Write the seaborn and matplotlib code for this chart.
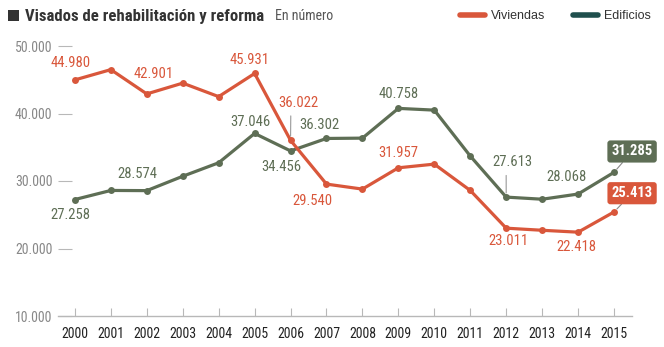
import matplotlib
matplotlib.use("Agg")
import matplotlib.pyplot as plt
from matplotlib.lines import Line2D
from matplotlib.patches import Rectangle
import pandas as pd
import seaborn as sns

# Series: rehabilitation & renovation permits (visados), units per year
years = list(range(2000, 2016))
viviendas = [44980, 46500, 42901, 44500, 42500, 45931, 36022, 29540,
             28800, 31957, 32500, 28600, 23011, 22700, 22418, 25413]
edificios = [27258, 28600, 28574, 30700, 32700, 37046, 34456, 36302,
             36350, 40758, 40500, 33700, 27613, 27300, 28068, 31285]
series_names = ["Viviendas", "Edificios"]
yticks = [10000, 20000, 30000, 40000, 50000]

RED = "#d9573b"
GREEN = "#5e6e55"
TEAL = "#1f4f4d"
GRID = "#b8b8b8"

def fmt(v):
    return f"{v:,}".replace(",", ".")

df = pd.DataFrame({
    "year": years * 2,
    "value": viviendas + edificios,
    "serie": [series_names[0]] * len(years) + [series_names[1]] * len(years),
})

sns.set_theme(style="white")
plt.rcParams["font.family"] = ["Roboto Condensed", "DejaVu Sans"]

fig = plt.figure(figsize=(6.64, 3.47), dpi=100)
ax = fig.add_axes([58 / 664, 31 / 347, (632 - 58) / 664, (316 - 46) / 347])

sns.lineplot(data=df, x="year", y="value", hue="serie",
             palette={"Viviendas": RED, "Edificios": GREEN},
             hue_order=["Edificios", "Viviendas"],
             marker="o", markersize=5, markeredgewidth=0,
             linewidth=2.3, legend=False, ax=ax)

ax.set_xlim(1999.53, 2015.5)
ax.set_ylim(10000, 50000)
ax.set_xticks(years)
ax.set_xticklabels([str(y) for y in years])
ax.set_yticks(yticks)
ax.set_yticklabels([fmt(v) for v in yticks])
ax.set_xlabel("")
ax.set_ylabel("")

for side in ("top", "right", "left"):
    ax.spines[side].set_visible(False)
ax.spines["bottom"].set_color(GRID)
ax.spines["bottom"].set_linewidth(1.0)

ax.tick_params(axis="x", direction="in", length=6, width=0.8, color=GRID,
               labelsize=10, labelcolor="#222222", pad=8, bottom=True)
ax.tick_params(axis="y", direction="in", length=10, width=0.8, color=GRID,
               labelsize=10, labelcolor="#888888", pad=4, left=True)
ax.grid(False)

# value labels: (series, index, offset in points)
def label(vals, i, dx, dy, color, leader=None):
    kw = {}
    if leader is not None:
        kw["arrowprops"] = dict(arrowstyle="-", color="#999999", lw=0.8,
                                shrinkA=2, shrinkB=3, relpos=(leader, 0.0))
    ax.annotate(fmt(vals[i]), (years[i], vals[i]), xytext=(dx, dy),
                textcoords="offset points", ha="center", va="center",
                fontsize=10.5, color=color, **kw)

label(viviendas, 0, -3, 12, RED)
label(viviendas, 2, 5, 14.5, RED)
label(viviendas, 5, -3.6, 9.4, RED)
label(viviendas, 6, 6, 27, RED, leader=0.3)
label(viviendas, 7, -10, -12, RED)
label(viviendas, 9, 0, 11, RED)
label(viviendas, 12, 1.4, -9.4, RED)
label(viviendas, 14, -1.4, -11, RED)

label(edificios, 0, -3, -11, GREEN)
label(edificios, 2, -6.5, 12, GREEN)
label(edificios, 5, -3, 8, GREEN)
label(edificios, 6, -6.5, -11.5, GREEN)
label(edificios, 7, -5, 9.4, GREEN)
label(edificios, 9, 0, 10, GREEN)
label(edificios, 12, 4.3, 25, GREEN, leader=0.35)
label(edificios, 14, -8, 12, GREEN)

# highlighted last values in boxes
for vals, color, dy in ((edificios, GREEN, 15), (viviendas, RED, 13.5)):
    ax.annotate(fmt(vals[-1]), (years[-1], vals[-1]), xytext=(13, dy),
                textcoords="offset points", ha="center", va="center",
                fontsize=10.5, color="white", fontweight="bold",
                bbox=dict(boxstyle="round,pad=0.28,rounding_size=0.2",
                          fc=color, ec="none"),
                arrowprops=dict(arrowstyle="-", color="#888888", lw=0.8,
                                shrinkA=0, shrinkB=3))

# header
fig.patches.append(Rectangle((8 / 664, 1 - 21 / 347), 11 / 664, 11 / 347,
                             transform=fig.transFigure, fc="#333333", ec="none"))
fig.text(25 / 664, 1 - 16 / 347, "Visados de rehabilitación y reforma",
         fontsize=12.1, fontweight="bold", color="#333333", va="center")
fig.text(275 / 664, 1 - 16 / 347, "En número", fontsize=10,
         color="#555555", va="center")

handles = [Line2D([0], [0], color=RED, lw=4, solid_capstyle="round"),
           Line2D([0], [0], color=TEAL, lw=4, solid_capstyle="round")]
fig.legend(handles, series_names, loc="center right",
           bbox_to_anchor=(662 / 664, 1 - 16 / 347), ncol=2, frameon=False,
           handlelength=2.0, handletextpad=0.5,
           columnspacing=2.2, labelcolor="#333333",
           prop={"family": ["Liberation Sans", "DejaVu Sans"], "size": 9})

fig.savefig("out.png", dpi=100, facecolor="white")
